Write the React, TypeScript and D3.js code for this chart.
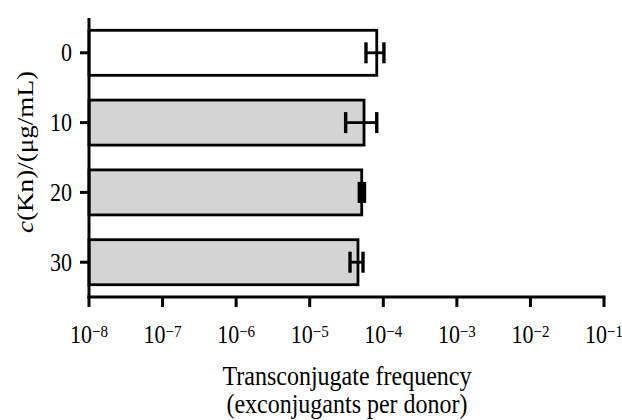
import React from "react";
import * as d3 from "d3";

const categories = ["0", "10", "20", "30"];
const values = [8.15e-5, 5.47e-5, 5.09e-5, 4.53e-5];
const errLow = [5.82e-5, 3.08e-5, 4.72e-5, 3.53e-5];
const errHigh = [1.02e-4, 8.15e-5, 5.55e-5, 5.3e-5];
const fills = ["#ffffff", "#d4d4d4", "#d4d4d4", "#d4d4d4"];
const xTickExps = [-8, -7, -6, -5, -4, -3, -2, -1];

const W = 622, H = 420;
const FONT = "'Liberation Serif', 'Times New Roman', serif";
const SY = 1.13;

export default function App() {
  const x = d3.scaleLog().domain([1e-8, 1e-1]).range([89, 604]);
  const y = d3.scaleBand<string>().domain(categories).range([18, 297]).paddingInner(0.355).paddingOuter(0.176);
  const x0 = x.range()[0];
  const yBottom = 297;
  const bw = y.bandwidth();
  const cap = 10.5;

  return (
    <svg width={W} height={H} style={{ position: "absolute", left: 0, top: 0, background: "#fff" }} fontFamily={FONT}>
      {categories.map((c, i) => {
        const yy = y(c)!;
        const cy = yy + bw / 2;
        return (
          <g key={c}>
            <rect x={x0} y={yy} width={x(values[i]) - x0} height={bw} fill={fills[i]} stroke="#000" strokeWidth={2.8} />
            <line x1={x(errLow[i])} x2={x(errHigh[i])} y1={cy} y2={cy} stroke="#000" strokeWidth={2.8} />
            <line x1={x(errLow[i])} x2={x(errLow[i])} y1={cy - cap} y2={cy + cap} stroke="#000" strokeWidth={3.4} />
            <line x1={x(errHigh[i])} x2={x(errHigh[i])} y1={cy - cap} y2={cy + cap} stroke="#000" strokeWidth={3.4} />
            <line x1={x0 - 9} x2={x0} y1={cy} y2={cy} stroke="#000" strokeWidth={3} />
            <text transform={`translate(72,${cy + 8.5}) scale(1,${SY})`} textAnchor="end" fontSize={22}>{c}</text>
          </g>
        );
      })}
      {/* axes */}
      <line x1={x0} x2={x0} y1={18} y2={yBottom + 1.5} stroke="#000" strokeWidth={3} />
      <line x1={x0 - 1.5} x2={604 + 1.5} y1={yBottom} y2={yBottom} stroke="#000" strokeWidth={3} />
      {xTickExps.map((e) => {
        const xx = x(Math.pow(10, e));
        return (
          <g key={e}>
            <line x1={xx} x2={xx} y1={yBottom} y2={yBottom + 10} stroke="#000" strokeWidth={3} />
            <text transform={`translate(${xx},343) scale(1,${SY})`} textAnchor="middle" fontSize={22}>
              10<tspan fontSize={15} dy={-5.5}>{"\u2212" + Math.abs(e)}</tspan>
            </text>
          </g>
        );
      })}
      <text transform={`translate(347,385) scale(1,${SY})`} textAnchor="middle" fontSize={24}>Transconjugate frequency</text>
      <text transform={`translate(347,413) scale(1,${SY})`} textAnchor="middle" fontSize={24}>(exconjugants per donor)</text>
      <text transform={`translate(33,152) scale(1,${SY}) rotate(-90)`} textAnchor="middle" fontSize={24}>
        <tspan fontStyle="italic">c</tspan>(Kn)/(μg/mL)
      </text>
    </svg>
  );
}
